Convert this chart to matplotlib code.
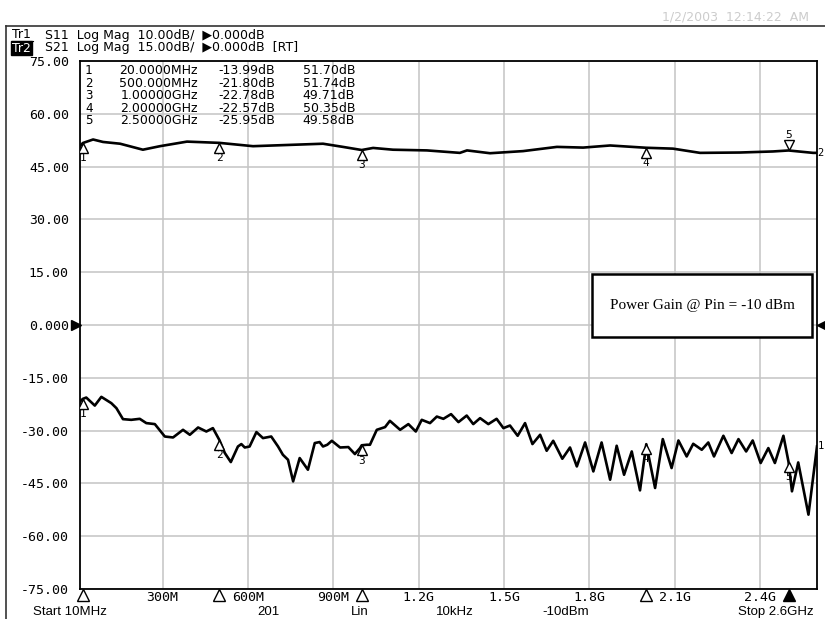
import matplotlib
matplotlib.use("Agg")
import matplotlib.pyplot as plt
import matplotlib.transforms as mtransforms
from matplotlib.lines import Line2D
from matplotlib.patches import Rectangle

# trace data (MHz, dB)
s21_freq = [10, 20, 56, 91, 151, 231, 291, 386, 500, 618, 759, 864, 934, 1000, 1040, 1110,
            1229, 1345, 1370, 1451, 1567, 1686, 1778, 1873, 2000, 2094, 2189, 2329, 2445,
            2500, 2586, 2600]
s21_db = [50.8, 51.7, 52.7, 52.0, 51.5, 49.8, 50.8, 52.1, 51.74, 50.8, 51.2, 51.5, 50.6,
          49.71, 50.3, 49.8, 49.6, 48.9, 49.6, 48.8, 49.4, 50.6, 50.4, 51.0, 50.35, 50.1,
          48.9, 49.0, 49.3, 49.58, 48.9, 48.9]

s11_freq = [10, 20, 32, 62, 85, 120, 138, 161, 190, 220, 243, 273, 308, 337, 372, 396, 425,
            454, 477, 500, 519, 540, 565, 577, 589, 606, 630, 653, 682, 706, 723, 741, 759,
            782, 811, 835, 852, 864, 879, 895, 924, 953, 976, 994, 1000, 1018, 1029, 1053,
            1082, 1099, 1135, 1164, 1190, 1211, 1240, 1264, 1287, 1314, 1340, 1369, 1392,
            1416, 1445, 1474, 1498, 1521, 1548, 1574, 1600, 1627, 1650, 1673, 1705, 1732,
            1756, 1785, 1814, 1843, 1873, 1896, 1922, 1949, 1978, 2000, 2031, 2058, 2089,
            2113, 2142, 2165, 2195, 2218, 2238, 2271, 2300, 2324, 2351, 2374, 2402, 2429,
            2452, 2482, 2500, 2512, 2534, 2570, 2600]
s11_db = [-14.50, -13.99, -13.74, -15.26, -13.61, -14.80, -15.75, -17.83, -17.96, -17.77,
          -18.58, -18.77, -21.12, -21.30, -19.85, -20.79, -19.41, -20.17, -19.53, -21.80,
          -24.25, -25.96, -23.01, -22.55, -23.20, -23.01, -20.28, -21.42, -21.12, -23.01,
          -24.58, -25.52, -29.62, -25.20, -27.41, -22.36, -22.17, -23.01, -22.68, -21.93,
          -23.20, -23.12, -24.44, -23.31, -22.78, -22.68, -22.68, -19.85, -19.34, -18.15,
          -19.85, -18.77, -20.17, -17.96, -18.58, -17.34, -17.77, -16.88, -18.39, -17.15,
          -18.77, -17.64, -18.77, -17.77, -19.53, -19.04, -20.98, -18.58, -22.55, -20.79,
          -23.82, -21.93, -25.33, -23.20, -26.79, -22.25, -27.73, -22.25, -29.30, -22.87,
          -28.36, -23.95, -31.32, -22.57, -30.87, -21.61, -27.09, -21.87, -24.90, -22.50,
          -23.63, -22.25, -24.90, -20.98, -24.25, -21.61, -23.95, -21.87, -26.14, -23.31,
          -26.14, -20.98, -25.95, -31.50, -26.03, -35.92, -23.00]

# markers
marker_freq = [20, 500, 1000, 2000, 2500]
marker_s11 = [-13.99, -21.80, -22.78, -22.57, -25.95]
marker_s21 = [51.70, 51.74, 49.71, 50.35, 49.58]

# scales (dB/div) - screen graticule is labelled in S21 units
s11_scale = 10.0
s21_scale = 15.0

y_ticks = [75, 60, 45, 30, 15, 0, -15, -30, -45, -60, -75]
x_ticks = [300, 600, 900, 1200, 1500, 1800, 2100, 2400]
x_tick_labels = ["300M", "600M", "900M", "1.2G", "1.5G", "1.8G", "2.1G", "2.4G"]

W, H = 825, 619


def px(x, y):
    return x / W, 1 - y / H


fig = plt.figure(figsize=(W / 100, H / 100), dpi=100)
fig.patch.set_facecolor("white")
ax = fig.add_axes([80 / W, 30 / H, 737 / W, 528 / H])

mono = ["DejaVu Sans Mono", "DejaVu Sans"]
sans = ["DejaVu Sans"]

# graticule
ax.set_xlim(10, 2600)
ax.set_ylim(-75, 75)
ax.set_xticks(x_ticks)
ax.set_xticklabels(x_tick_labels, family=mono, fontsize=9.5)
ax.set_yticks(y_ticks)
ax.set_yticklabels(["0.000" if v == 0 else f"{v:.2f}" for v in y_ticks], family=mono, fontsize=9.5)
ax.tick_params(axis="x", length=0, pad=1.5)
ax.tick_params(axis="y", length=0, pad=8)
ax.grid(True, color="#c4c4c4", lw=1.1)
ax.set_axisbelow(True)
for sp in ax.spines.values():
    sp.set_linewidth(1.3)
    sp.set_color("black")

# traces
s11_disp = [v * s21_scale / s11_scale for v in s11_db]
ax.plot(s21_freq, s21_db, color="black", lw=1.9, solid_joinstyle="round", zorder=3)
ax.plot(s11_freq, s11_disp, color="black", lw=1.9, solid_joinstyle="round", zorder=3)

# markers on traces
below = mtransforms.offset_copy(ax.transData, fig=fig, x=0, y=-5, units="dots")
above = mtransforms.offset_copy(ax.transData, fig=fig, x=0, y=5, units="dots")
for i, f in enumerate(marker_freq):
    v21 = marker_s21[i]
    v11 = marker_s11[i] * s21_scale / s11_scale
    if i == 4:
        ax.plot(f, v21, marker="v", ms=7, mfc="white", mec="black", mew=1, transform=above, zorder=4)
        ax.annotate(str(i + 1), (f, v21), xytext=(0, 11), textcoords="offset points",
                    ha="center", va="center", family=mono, fontsize=8)
    else:
        ax.plot(f, v21, marker="^", ms=7, mfc="white", mec="black", mew=1, transform=below, zorder=4)
        ax.annotate(str(i + 1), (f, v21), xytext=(0, -11), textcoords="offset points",
                    ha="center", va="center", family=mono, fontsize=8)
    ax.plot(f, v11, marker="^", ms=7, mfc="white", mec="black", mew=1, transform=below, zorder=4)
    ax.annotate(str(i + 1), (f, v11), xytext=(0, -11), textcoords="offset points",
                ha="center", va="center", family=mono, fontsize=8)

# marker triangles under the frequency axis
xb = mtransforms.blended_transform_factory(ax.transData, ax.transAxes)
xb = mtransforms.offset_copy(xb, fig=fig, x=0, y=-6, units="dots")
for i, f in enumerate(marker_freq):
    active = i == len(marker_freq) - 1
    ax.plot(f, 0, marker="^", ms=9, mfc="black" if active else "white", mec="black",
            mew=1, transform=xb, clip_on=False, zorder=5)

# reference position arrows (0 dB)
yb = mtransforms.blended_transform_factory(ax.transAxes, ax.transData)
ax.plot(0, 0, marker=">", ms=7, color="black",
        transform=mtransforms.offset_copy(yb, fig=fig, x=-4, y=0, units="dots"), clip_on=False)
ax.plot(1, 0, marker="<", ms=7, color="black",
        transform=mtransforms.offset_copy(yb, fig=fig, x=5, y=0, units="dots"), clip_on=False)

# trace end labels
ax.annotate("2", (1, s21_db[-1]), xycoords=yb, xytext=(0.5, 0), textcoords="offset points",
            ha="left", va="center", family=mono, fontsize=7.5, annotation_clip=False)
ax.annotate("1", (1, s11_disp[-1]), xycoords=yb, xytext=(0.5, 0), textcoords="offset points",
            ha="left", va="center", family=mono, fontsize=7.5, annotation_clip=False)

# annotation box
ax.add_patch(Rectangle((0.6947, 0.4773), 0.2985, 0.1193, transform=ax.transAxes,
                       facecolor="white", edgecolor="black", lw=1.8, zorder=6))
ax.text(0.6947 + 0.2985 / 2, 0.4773 + 0.1193 / 2, "Power Gain @ Pin = -10 dBm",
        transform=ax.transAxes, ha="center", va="center",
        family=["Liberation Serif", "DejaVu Serif"], fontsize=11, zorder=7)

# marker table
for i, f in enumerate(marker_freq):
    y = 71 + i * 12.4
    ftxt = f"{f / 1000:#.6g}GHz" if f >= 1000 else f"{f:#.6g}MHz"
    fig.text(*px(85, y), str(i + 1), family=mono, fontsize=9, va="center")
    fig.text(*px(198, y), ftxt, family=sans, fontsize=9, va="center", ha="right")
    fig.text(*px(275, y), f"{marker_s11[i]:.2f}dB", family=sans, fontsize=9, va="center", ha="right")
    fig.text(*px(355, y), f"{marker_s21[i]:.2f}dB", family=sans, fontsize=9, va="center", ha="right")

# header lines
fig.text(*px(12, 35), "Tr1", family=sans, fontsize=9, va="center")
fig.add_artist(Line2D([12 / W, 33 / W], [1 - 41 / H] * 2, color="black", lw=0.8))
fig.text(*px(45, 35), "S11  Log Mag  10.00dB/  \u25b60.000dB", family=sans, fontsize=9, va="center")
fig.text(*px(12, 48), "Tr2", family=sans, fontsize=9, va="center", color="white",
         bbox=dict(facecolor="black", edgecolor="black", pad=0.6))
fig.text(*px(45, 48), "S21  Log Mag  15.00dB/  \u25b60.000dB  [RT]", family=sans, fontsize=9, va="center")

# timestamp
fig.text(*px(662, 17), "1/2/2003  12:14:22  AM", family=sans, fontsize=9, va="center", color="#cccccc")

# outer frame
fig.add_artist(Line2D([6 / W, 1], [1 - 26 / H] * 2, color="#333333", lw=1.2))
fig.add_artist(Line2D([6 / W, 6 / W], [0, 1 - 26 / H], color="#333333", lw=1.2))

# status line
stat = ["Liberation Sans", "DejaVu Sans"]
fig.text(*px(33, 612), "Start 10MHz", family=stat, fontsize=9.5, va="center")
fig.text(*px(268, 612), "201", family=stat, fontsize=9.5, va="center", ha="center")
fig.text(*px(360, 612), "Lin", family=stat, fontsize=9.5, va="center", ha="center")
fig.text(*px(455, 612), "10kHz", family=stat, fontsize=9.5, va="center", ha="center")
fig.text(*px(566, 612), "-10dBm", family=stat, fontsize=9.5, va="center", ha="center")
fig.text(*px(738, 612), "Stop 2.6GHz", family=stat, fontsize=9.5, va="center")

fig.savefig("out.png", dpi=100)
